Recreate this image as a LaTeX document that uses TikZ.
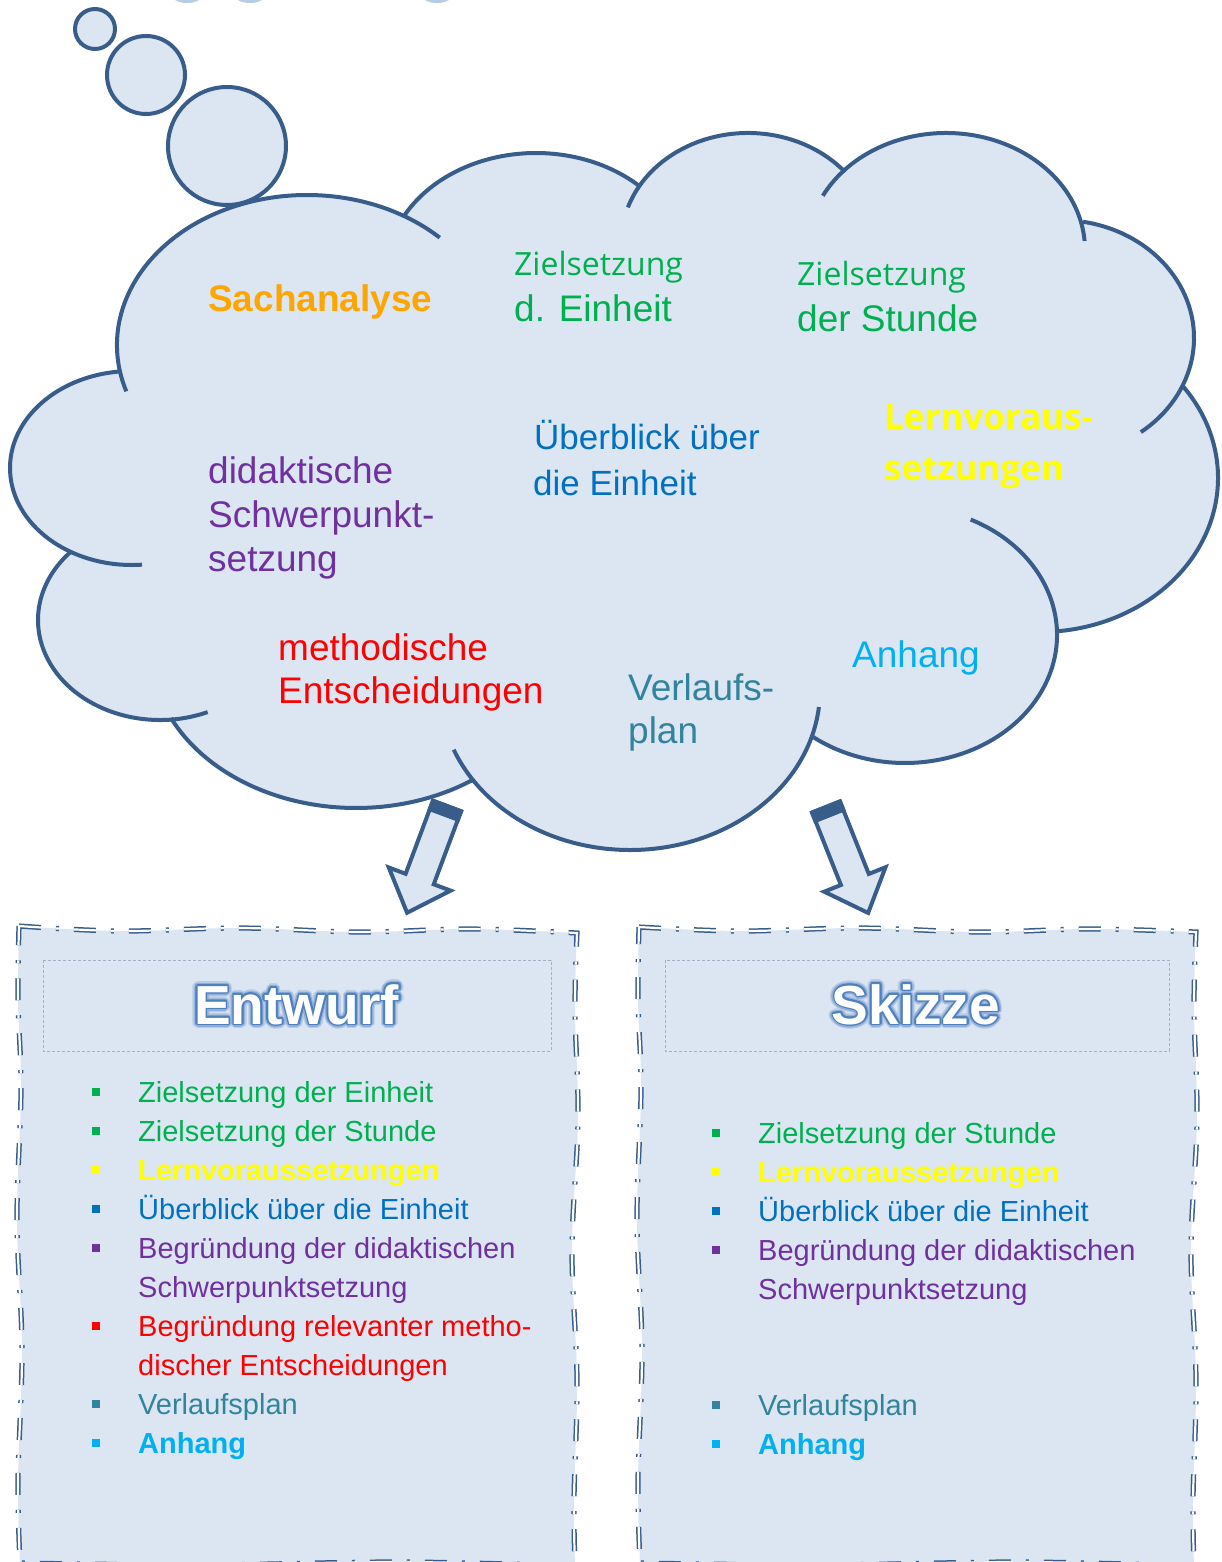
\documentclass[tikz,border=0pt]{standalone}
\usepackage{fontspec}
\setmainfont{Liberation Sans}
\newfontfamily\osans{Open Sans}
\definecolor{cfill}{HTML}{DCE6F2}
\definecolor{cline}{HTML}{385D8A}
\definecolor{corange}{HTML}{FFA500}
\definecolor{cgreen}{HTML}{00B050}
\definecolor{cyellow}{HTML}{FFFF00}
\definecolor{cblue}{HTML}{0070C0}
\definecolor{cpurple}{HTML}{7030A0}
\definecolor{cred}{HTML}{FF0000}
\definecolor{cteal}{HTML}{31849B}
\definecolor{clblue}{HTML}{00B0F0}
\definecolor{glowA}{HTML}{B9CCE6}
\definecolor{glowB}{HTML}{8EADD8}
\definecolor{outl}{HTML}{4F81BD}
\definecolor{tbox}{HTML}{A3B1C6}
\newcommand\lobearc[6]{\draw[cloudline] ([shift={(#1,-#2)}]-#5:#3 and #4) arc[start angle=-#5, end angle=-#6, x radius=#3, y radius=#4];}
\newcommand\lobefill[4]{\fill[cfill] (#1,-#2) ellipse[x radius=#3, y radius=#4];}
\newcommand\glowtitle[4]{%
  \foreach \a in {0,20,...,340}{\node[ttl, text=glowA] at ([shift={(\a:4.5)}]#2,-#3) {#4};}
  \foreach \a in {0,30,...,330}{\node[ttl, text=glowB] at ([shift={(\a:3)}]#2,-#3) {#4};}
  \foreach \a in {0,30,...,330}{\node[ttl, text=outl] at ([shift={(\a:1.7)}]#2,-#3) {#4};}
  \node[ttl, text=white] (#1) at (#2,-#3) {#4};}
\begin{document}
\begin{tikzpicture}[x=1pt,y=1pt,
  cloudline/.style={draw=cline, line width=4pt},
  bubble/.style={draw=cline, fill=cfill, line width=4pt},
  blockarrow/.style={draw=cline, fill=cfill, line width=4pt, line join=miter},
  boxfill/.style={fill=cfill},
  boxborder/.style={draw=cline, line width=1.5pt, double=white, double distance=2.2pt, dash pattern=on 22pt off 15pt on 3pt off 15pt},
  titlebox/.style={draw=tbox, line width=0.8pt, dash pattern=on 3pt off 2pt},
  ttl/.style={anchor=base, inner sep=0pt, font=\fontsize{55}{60}\selectfont\bfseries},
  cl/.style={anchor=base west, inner sep=0pt, font=\fontsize{37}{44}\selectfont},
  clo/.style={anchor=base west, inner sep=0pt, font=\osans\fontsize{32}{36}\selectfont},
  lst/.style={anchor=base west, inner sep=0pt, font=\fontsize{29}{34}\selectfont},
  bul/.style={rectangle, fill=#1, minimum size=8pt, inner sep=0pt}]
\useasboundingbox (0,0) rectangle (1221,-1562);
\clip (0,0) rectangle (1221,-1562);

% faint slivers at the top edge
\fill[glowA] (187,3) ellipse[x radius=14, y radius=6];
\fill[glowA] (250,3) ellipse[x radius=14, y radius=6];
\fill[glowA] (437,3) ellipse[x radius=14, y radius=6];

% thought bubbles
\draw[bubble] (95,-29) circle[radius=20];
\draw[bubble] (146,-75) circle[radius=39];
\draw[bubble] (227,-146) circle[radius=59];

% cloud fill
\lobefill{307}{345}{190}{150}
\lobefill{536}{273}{150}{120}
\lobefill{748}{243}{127}{110}
\lobefill{946}{250}{139}{117}
\lobefill{1060}{338}{134}{118}
\lobefill{1040}{478}{178}{154}
\lobefill{905}{635}{152}{128}
\lobefill{630}{690}{190}{160}
\lobefill{356}{650}{205}{158}
\lobefill{160}{620}{122}{100}
\lobefill{132}{468}{122}{97}
\fill[cfill] (307,-345) -- (536,-273) -- (748,-243) -- (946,-250) -- (1060,-338) -- (1040,-478) -- (905,-635) -- (630,-690) -- (356,-650) -- (160,-620) -- (132,-468) -- cycle;

% cloud outline
\lobearc{307}{345}{190}{150}{162}{314.3}
\lobearc{536}{273}{150}{120}{208.2}{313.5}
\lobearc{748}{243}{127}{110}{198.9}{319.8}
\lobearc{946}{250}{139}{117}{207.6}{355.6}
\lobearc{1060}{338}{134}{118}{279.9}{412.9}
\lobearc{1040}{478}{178}{154}{322.8}{444.5}
\lobearc{905}{635}{152}{128}{295.6}{487.7}
\lobearc{630}{690}{190}{160}{6.1}{158.1}
\lobearc{356}{650}{205}{158}{55.5}{154.5}
\lobearc{160}{620}{122}{100}{67}{223.6}
\lobearc{132}{468}{122}{97}{85.3}{264.3}

% cloud texts
\node[cl, text=corange, font=\fontsize{37}{44}\selectfont\bfseries] (sach) at (208,-311) {Sachanalyse};
\node[clo, text=cgreen] (ze1) at (514,-275) {Zielsetzung};
\node[cl, text=cgreen] (ze2) at (514,-321) {d. Einheit};
\node[clo, text=cgreen] (zs1) at (797,-285) {Zielsetzung};
\node[cl, text=cgreen] (zs2) at (797,-331) {der Stunde};
\node[anchor=base west, inner sep=0pt, text=cyellow, font=\osans\bfseries\fontsize{35}{40}\selectfont] (lv1) at (884,-429) {Lernvoraus-};
\node[anchor=base west, inner sep=0pt, text=cyellow, font=\osans\bfseries\fontsize{35}{40}\selectfont] (lv2) at (884,-480) {setzungen};
\node[cl, text=cblue, font=\fontsize{35}{40}\selectfont] (ub1) at (534,-449) {Überblick über};
\node[cl, text=cblue, font=\fontsize{35}{40}\selectfont] (ub2) at (533,-495) {die Einheit};
\node[cl, text=cpurple] (di1) at (208,-483) {didaktische};
\node[cl, text=cpurple] (di2) at (208,-527) {Schwerpunkt-};
\node[cl, text=cpurple] (di3) at (208,-571) {setzung};
\node[cl, text=cred] (me1) at (278,-660) {methodische};
\node[cl, text=cred] (me2) at (278,-703) {Entscheidungen};
\node[cl, text=cteal] (ve1) at (628,-700) {Verlaufs-};
\node[cl, text=cteal] (ve2) at (628,-743) {plan};
\node[cl, text=clblue] (an) at (852,-667) {Anhang};

% block arrows
\begin{scope}[shift={(447,-806)}, rotate=249.5]
  \draw[blockarrow] (0,-15) -- (78,-15) -- (78,-33) -- (114,0) -- (78,33) -- (78,15) -- (0,15) -- cycle;
  \fill[cline] (-2,-17) rectangle (11,17);
\end{scope}
\begin{scope}[shift={(826,-807)}, rotate=291.7]
  \draw[blockarrow] (0,-15) -- (78,-15) -- (78,-33) -- (114,0) -- (78,33) -- (78,15) -- (0,15) -- cycle;
  \fill[cline] (-2,-17) rectangle (11,17);
\end{scope}

% boxes
\def\leftbox{(19,-926) -- plot[smooth, tension=0.6] coordinates {(19,-926) (120,-931) (240,-928) (360,-932) (470,-929) (577,-933)}
  -- plot[smooth, tension=0.6] coordinates {(577,-933) (575,-1010) (578,-1120) (572,-1250) (577,-1380) (574,-1500) (575,-1566)}
  -- plot[smooth, tension=0.6] coordinates {(575,-1566) (400,-1562) (200,-1565) (20,-1563)}
  -- plot[smooth, tension=0.6] coordinates {(20,-1563) (18,-1480) (22,-1350) (17,-1220) (21,-1090) (18,-1000) (19,-926)} -- cycle}
\def\rightbox{(639,-927) -- plot[smooth, tension=0.6] coordinates {(639,-927) (740,-931) (860,-928) (980,-932) (1090,-929) (1196,-932)}
  -- plot[smooth, tension=0.6] coordinates {(1196,-932) (1194,-1010) (1197,-1120) (1191,-1250) (1196,-1380) (1193,-1500) (1194,-1566)}
  -- plot[smooth, tension=0.6] coordinates {(1194,-1566) (1020,-1562) (820,-1565) (640,-1563)}
  -- plot[smooth, tension=0.6] coordinates {(640,-1563) (638,-1480) (642,-1350) (637,-1220) (641,-1090) (638,-1000) (639,-927)} -- cycle}
\path[boxfill] \leftbox;
\draw[boxborder] \leftbox;
\path[boxfill] \rightbox;
\draw[boxborder] \rightbox;

% title boxes
\draw[titlebox] (43,-960) rectangle (551,-1051);
\draw[titlebox] (665,-960) rectangle (1169,-1051);
\glowtitle{entwurf}{296.5}{1024}{Entwurf}
\glowtitle{skizze}{916}{1024}{Skizze}

% left list
\node[bul=cgreen] (lb1) at (96,-1092) {};
\node[lst, text=cgreen] (l1) at (138,-1102) {Zielsetzung der Einheit};
\node[bul=cgreen] (lb2) at (96,-1131) {};
\node[lst, text=cgreen] (l2) at (138,-1141) {Zielsetzung der Stunde};
\node[bul=cyellow] (lb3) at (96,-1170) {};
\node[lst, text=cyellow, font=\fontsize{29}{34}\selectfont\bfseries] (l3) at (138,-1180) {Lernvoraussetzungen};
\node[bul=cblue] (lb4) at (96,-1209) {};
\node[lst, text=cblue] (l4) at (138,-1219) {Überblick über die Einheit};
\node[bul=cpurple] (lb5) at (96,-1248) {};
\node[lst, text=cpurple] (l5) at (138,-1258) {Begründung der didaktischen};
\node[lst, text=cpurple] (l6) at (138,-1297) {Schwerpunktsetzung};
\node[bul=cred] (lb7) at (96,-1326) {};
\node[lst, text=cred] (l7) at (138,-1336) {Begründung relevanter metho-};
\node[lst, text=cred] (l8) at (138,-1375) {discher Entscheidungen};
\node[bul=cteal] (lb9) at (96,-1404) {};
\node[lst, text=cteal] (l9) at (138,-1414) {Verlaufsplan};
\node[bul=clblue] (lb10) at (96,-1443) {};
\node[lst, text=clblue, font=\fontsize{29}{34}\selectfont\bfseries] (l10) at (138,-1453) {Anhang};

% right list
\node[bul=cgreen] (rb1) at (716,-1133) {};
\node[lst, text=cgreen] (r1) at (758,-1143) {Zielsetzung der Stunde};
\node[bul=cyellow] (rb2) at (716,-1172) {};
\node[lst, text=cyellow, font=\fontsize{29}{34}\selectfont\bfseries] (r2) at (758,-1182) {Lernvoraussetzungen};
\node[bul=cblue] (rb3) at (716,-1211) {};
\node[lst, text=cblue] (r3) at (758,-1221) {Überblick über die Einheit};
\node[bul=cpurple] (rb4) at (716,-1250) {};
\node[lst, text=cpurple] (r4) at (758,-1260) {Begründung der didaktischen};
\node[lst, text=cpurple] (r5) at (758,-1299) {Schwerpunktsetzung};
\node[bul=cteal] (rb6) at (716,-1405) {};
\node[lst, text=cteal] (r6) at (758,-1415) {Verlaufsplan};
\node[bul=clblue] (rb7) at (716,-1444) {};
\node[lst, text=clblue, font=\fontsize{29}{34}\selectfont\bfseries] (r7) at (758,-1454) {Anhang};
\end{tikzpicture}
\end{document}
